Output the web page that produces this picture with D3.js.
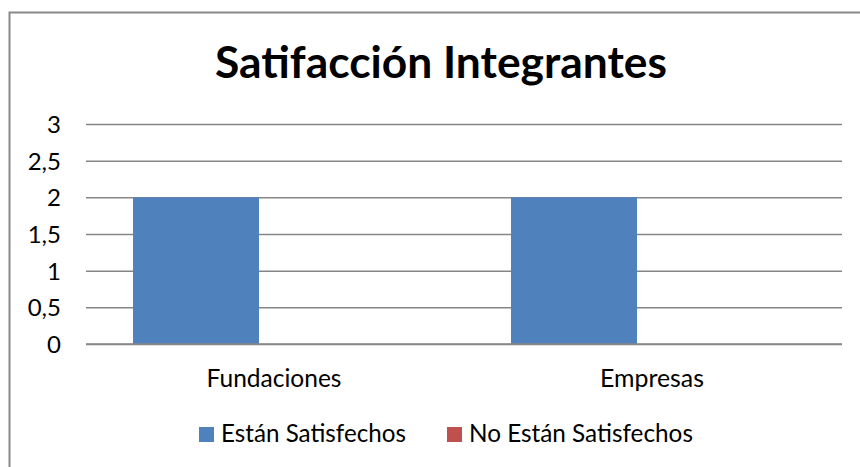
<!DOCTYPE html>
<html><head><meta charset="utf-8">
<script src="https://cdn.jsdelivr.net/npm/d3@7"></script>
<style>body{margin:0;background:#fff}svg{display:block}text{font-family:Lato,"Open Sans",sans-serif;fill:#000}</style>
</head><body><svg id="c" width="860" height="467"></svg>
<script>
(function(){
const title = "Satifacción Integrantes";
const categories = ["Fundaciones", "Empresas"];
const seriesNames = ["Están Satisfechos", "No Están Satisfechos"];
const estanSatisfechos = [2, 2];
const noEstanSatisfechos = [0, 0];
const yTicks = [0, 0.5, 1, 1.5, 2, 2.5, 3];
const colors = ["#4F81BD", "#C0504D"];

const svg = d3.select("#c");
svg.append("rect").attr("x", 9.5).attr("y", 12.5).attr("width", 870).attr("height", 470)
  .attr("fill", "#fff").attr("stroke", "#898989").attr("stroke-width", 2);

const mLeft = 86, mRight = 842, mTop = 124, mBottom = 344;
const y = d3.scaleLinear().domain([0, 3]).range([mBottom, mTop]);
const x0 = d3.scaleBand().domain(categories).range([mLeft, mRight]).paddingInner(1/3).paddingOuter(1/6).align(0.373);
const x1 = d3.scaleBand().domain(seriesNames).range([0, x0.bandwidth()]);

const fitText = (sel, w) => { sel.each(function(d, i){ const tw = typeof w === "function" ? w(d, i) : w; const l = this.getComputedTextLength(); const fs = parseFloat(d3.select(this).style("font-size")); d3.select(this).style("font-size", (fs * tw / l) + "px"); }); };

const grid = svg.append("g").attr("transform", `translate(${mLeft},0)`)
  .call(d3.axisLeft(y).tickValues(yTicks).tickSize(-(mRight - mLeft)).tickFormat(""));
grid.select(".domain").remove();
grid.selectAll("line").attr("stroke", "#868686").attr("stroke-width", 1.5);

const yAx = svg.append("g").attr("transform", `translate(61,0)`)
  .call(d3.axisLeft(y).tickValues(yTicks).tickSize(0).tickPadding(0).tickFormat(d => String(d).replace(".", ",")));
yAx.select(".domain").remove();
yAx.selectAll("text").style("font-size", "24px").attr("dy", "0.36em").attr("fill", "#000").style("font-family", "Lato");

const data = categories.map((c, i) => ({ c, vals: [estanSatisfechos[i], noEstanSatisfechos[i]] }));
const g = svg.append("g").selectAll("g").data(data).join("g").attr("transform", d => `translate(${x0(d.c)},0)`);
g.selectAll("rect").data(d => d.vals.map((v, j) => ({ s: seriesNames[j], v, j }))).join("rect")
  .attr("x", d => x1(d.s)).attr("width", x1.bandwidth())
  .attr("y", d => y(d.v)).attr("height", d => y(0) - y(d.v)).attr("fill", d => colors[d.j]);

svg.append("line").attr("x1", mLeft).attr("x2", mRight).attr("y1", y(0)).attr("y2", y(0)).attr("stroke", "#868686").attr("stroke-width", 1.5);

const xc = d3.scaleBand().domain(categories).range([mLeft, mRight]);
const xLabW = [135, 104];
svg.append("g").selectAll("text").data(categories).join("text")
  .attr("x", d => xc(d) + xc.bandwidth() / 2 - 1).attr("y", 387).attr("text-anchor", "middle")
  .style("font-size", "24px").text(d => d).call(fitText, (d, i) => xLabW[i]);

svg.append("text").attr("x", 441).attr("y", 78).attr("text-anchor", "middle")
  .style("font-size", "40px").style("font-weight", "bold").text(title).call(fitText, 452);

const legX = [199, 447];
const legW = [185, 224];
const leg = svg.append("g").selectAll("g").data(seriesNames).join("g").attr("transform", (d, i) => `translate(${legX[i]},427)`);
leg.append("rect").attr("width", 15).attr("height", 15).attr("fill", (d, i) => colors[i]);
leg.append("text").attr("x", 22).attr("y", 15).style("font-size", "24px").text(d => d).call(fitText, (d, i) => legW[i]);
})();
</script></body></html>
